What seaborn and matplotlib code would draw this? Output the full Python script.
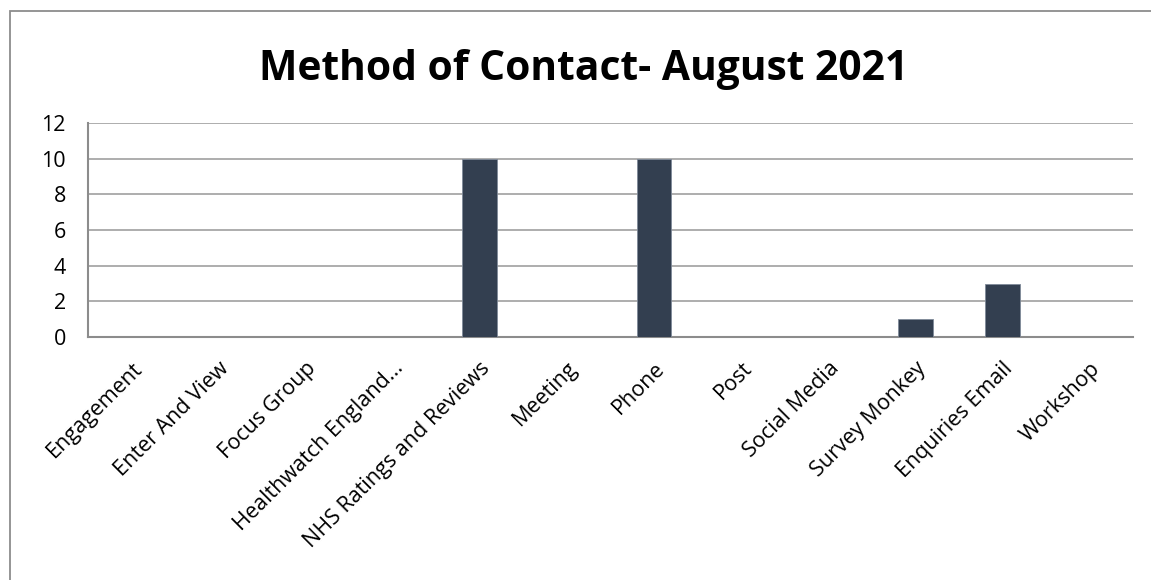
import numpy as np
import matplotlib
matplotlib.use("Agg")
import matplotlib.pyplot as plt
import pandas as pd
import seaborn as sns
from matplotlib.patches import Rectangle

categories = ['Engagement', 'Enter And View', 'Focus Group', 'Healthwatch England...',
              'NHS Ratings and Reviews', 'Meeting', 'Phone', 'Post', 'Social Media',
              'Survey Monkey', 'Enquiries Email', 'Workshop']
counts = [0, 0, 0, 0, 10, 0, 10, 0, 0, 1, 3, 0]
y_ticks = [0, 2, 4, 6, 8, 10, 12]
title = 'Method of Contact- August 2021'

df = pd.DataFrame({'Method': categories, 'Count': counts})

sns.set_style("white")
plt.rcParams['font.family'] = ['Open Sans', 'DejaVu Sans']
plt.rcParams['text.color'] = 'black'
plt.rcParams['xtick.labelcolor'] = 'black'
plt.rcParams['ytick.labelcolor'] = 'black'

fig = plt.figure(figsize=(11.51, 5.8), dpi=100)
ax = fig.add_axes([88 / 1151, 1 - 337 / 580, (1133 - 88) / 1151, (337 - 123) / 580])

sns.barplot(data=df, x='Method', y='Count', color='#333F50', saturation=1,
            width=0.4, ax=ax, edgecolor='#7f8a99', linewidth=0.6, zorder=3)

ax.set_ylim(0, 12)
ax.set_xlim(-0.5, len(categories) - 0.5)
ax.set_yticks(y_ticks)
ax.set_yticklabels([str(v) for v in y_ticks], fontsize=15.5)
ax.yaxis.grid(True, color='#a0a0a0', linewidth=1.2, zorder=0)
ax.set_axisbelow(True)
ax.set_xlabel('')
ax.set_ylabel('')

# ticks between categories, like the spreadsheet chart
ax.set_xticks(np.arange(len(categories)))
ax.set_xticklabels(categories, rotation=45, ha='right', rotation_mode='anchor', fontsize=15.5)
ax.tick_params(axis='x', length=0, pad=15)
ax.set_xticks(np.arange(-0.5, len(categories)), minor=True)
ax.tick_params(axis='x', which='minor', length=6, color='#8c8c8c', width=1.2, direction='out')
ax.tick_params(axis='y', length=6, color='#8c8c8c', width=1.2, direction='out', pad=10)

for side in ['top', 'right']:
    ax.spines[side].set_visible(False)
for side in ['left', 'bottom']:
    ax.spines[side].set_color('#8c8c8c')
    ax.spines[side].set_linewidth(1.5)

fig.text(0.5 + 8 / 1151, 1 - 70 / 580, title, ha='center', va='center', fontsize=29.3,
         fontweight='bold', color='black')

# outer chart frame
fig.patches.append(Rectangle((10 / 1151, -0.1), 1.2, 1 - 11 / 580 + 0.1, transform=fig.transFigure,
                             fill=False, edgecolor='#8c8c8c', linewidth=1.3))

fig.savefig('out.png', dpi=100)
